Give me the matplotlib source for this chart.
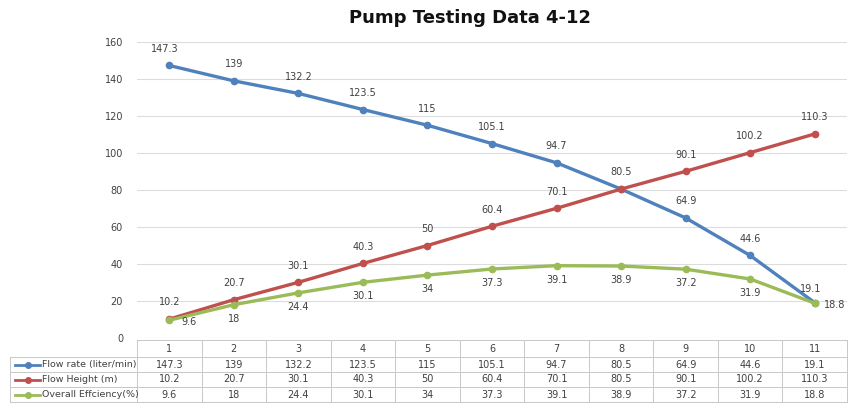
import matplotlib.pyplot as plt

# data
x_labels = ['1', '2', '3', '4', '5', '6', '7', '8', '9', '10', '11']
flow_rate = [147.3, 139, 132.2, 123.5, 115, 105.1, 94.7, 80.5, 64.9, 44.6, 19.1]
flow_height = [10.2, 20.7, 30.1, 40.3, 50, 60.4, 70.1, 80.5, 90.1, 100.2, 110.3]
efficiency = [9.6, 18, 24.4, 30.1, 34, 37.3, 39.1, 38.9, 37.2, 31.9, 18.8]
series_names = ['Flow rate (liter/min)', 'Flow Height (m)', 'Overall Effciency(%)']
colors = ['#4F81BD', '#C0504D', '#9BBB59']

W, H = 857, 403
fig = plt.figure(figsize=(W / 100, H / 100), dpi=100)

def fx(px):
    return px / W

def fy(py):
    return 1 - py / H

ax = fig.add_axes([fx(137), fy(338), fx(847) - fx(137), fy(42) - fy(338)])
xs = list(range(1, len(x_labels) + 1))
series = [flow_rate, flow_height, efficiency]
for vals, c in zip(series, colors):
    ax.plot(xs, vals, color=c, lw=2.4, marker='o', ms=4.5, zorder=3)

ax.set_xlim(0.5, 11.5)
ax.set_ylim(0, 160)
ax.set_yticks(range(0, 161, 20))
ax.set_xticks([])
ax.grid(axis='y', color='#dcdcdc', lw=0.8)
ax.set_axisbelow(True)
for s in ax.spines.values():
    s.set_visible(False)
ax.tick_params(axis='y', length=0, labelsize=7, labelcolor='#404040', pad=10)

lab = dict(fontsize=7, color='#404040', ha='center', va='center')
# blue labels above (the crossing point label is shared with red)
for i, v in enumerate(flow_rate):
    if i == 7:
        continue
    dx, dy = 0, 12
    if i == 0:
        dx = -3
    if i == len(flow_rate) - 1:
        dx, dy = -3, 10
    ax.annotate(str(v), (xs[i], v), xytext=(dx, dy), textcoords='offset points', **lab)
# red labels above
for i, v in enumerate(flow_height):
    ax.annotate(str(v), (xs[i], v), xytext=(0, 12), textcoords='offset points', **lab)
# green labels below
for i, v in enumerate(efficiency):
    if i == 0 or i == len(efficiency) - 1:
        ax.annotate(str(v), (xs[i], v), xytext=(14, -1), textcoords='offset points', **lab)
    else:
        ax.annotate(str(v), (xs[i], v), xytext=(0, -10), textcoords='offset points', **lab)

fig.text(fx(470), fy(18), 'Pump Testing Data 4-12', ha='center', va='center',
         fontsize=13, fontweight='bold', color='#111111')

# data table
tx0 = 10
col_w = (847 - 137) / 11
row_tops = [340, 357, 372, 387, 402]
grid_c = '#c8c8c8'
for r in row_tops:
    x_start = 137 if r == 340 else tx0
    fig.add_artist(plt.Line2D([fx(x_start), fx(847)], [fy(r), fy(r)], color=grid_c, lw=0.7))
fig.add_artist(plt.Line2D([fx(tx0), fx(tx0)], [fy(357), fy(402)], color=grid_c, lw=0.7))
for j in range(12):
    x = 137 + j * col_w
    fig.add_artist(plt.Line2D([fx(x), fx(x)], [fy(340), fy(402)], color=grid_c, lw=0.7))

for j, t in enumerate(x_labels):
    fig.text(fx(137 + (j + 0.5) * col_w), fy(348.5), t, ha='center', va='center',
             fontsize=7, color='#404040')
for r, (name, vals, c) in enumerate(zip(series_names, series, colors)):
    yc = fy((row_tops[r + 1] + row_tops[r + 2]) / 2)
    fig.add_artist(plt.Line2D([fx(15), fx(40)], [yc, yc], color=c, lw=2))
    fig.add_artist(plt.Line2D([fx(27.5)], [yc], color=c, marker='o', ms=4))
    fig.text(fx(42), yc, name, ha='left', va='center', fontsize=6.8, color='#404040')
    for j, v in enumerate(vals):
        fig.text(fx(137 + (j + 0.5) * col_w), yc, str(v), ha='center', va='center',
                 fontsize=7, color='#404040')

fig.savefig('out.png', dpi=100)
